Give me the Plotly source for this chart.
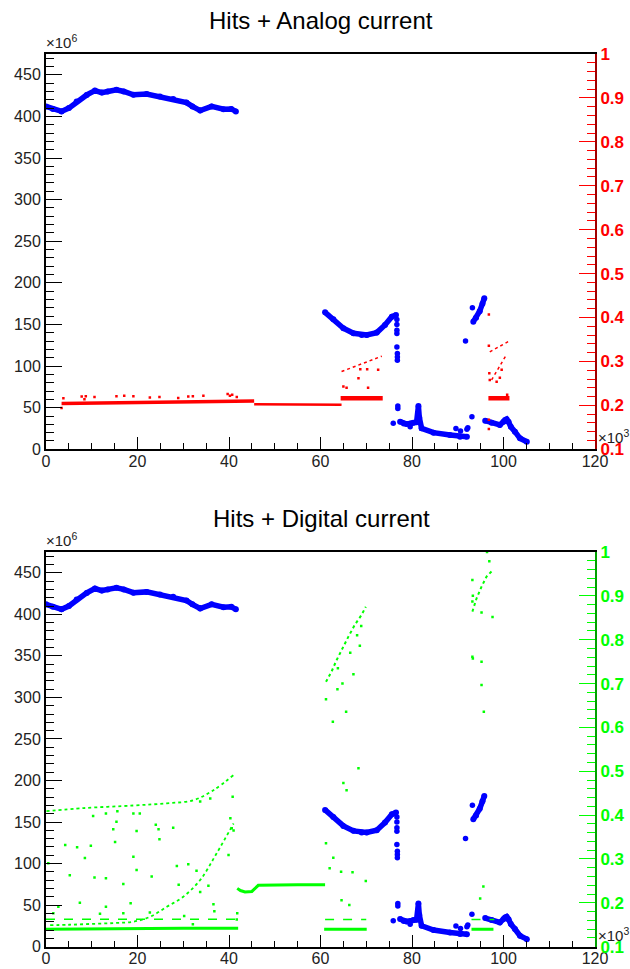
import plotly.graph_objects as go

# ---------------- hits (left axis, units of 1e6) ----------------
hits_seg_x = [0, 1.5, 3.4, 5.0, 6.7, 8.9, 10.7, 12.2, 13.5, 15.4, 17.0, 19.1, 22.0, 24.9, 27.8, 30.7, 32.0, 33.7, 36.2, 38.8, 40.5, 41.5, None,
              61.0, 62.8, 65.0, 67.2, 69.0, 70.1, 72.3, 74.1, 75.6, 76.5, None,
              77.4, 78.2, 78.8, 79.6, 80.3, 81.0, 81.4, 81.6, 82.1, 84.7, 88.3, 90.5, 92.0, None,
              93.4, 94.0, 94.8, 95.4, 95.8, None,
              96.0, 97.4, 99.2, 100.0, 100.7, 101.1, 101.6, 102.5, 103.6, 105.1]
hits_seg_y = [412, 409, 406, 410, 417.8, 425.8, 431, 428.6, 430, 432, 430, 426, 427, 424, 421, 416.6, 412, 407, 412, 408.6, 409, 406, None,
              164.6, 156.2, 145.4, 139.4, 137.4, 137.4, 140.2, 149.4, 159.4, 161.4, None,
              33.2, 31.0, 30.4, 31.0, 32.0, 32.5, 52.0, 38.0, 25.2, 20.0, 17.2, 15.2, 15.1, None,
              153.4, 158.0, 166.0, 175.0, 181.5, None,
              34.4, 32.0, 29.2, 33.2, 36.0, 33.0, 27.2, 21.2, 13.2, 9.1]
hits_pts_x = [76.7, 76.7, 76.7, 76.7, 76.7, 76.8, 76.8, 76.8, 76.9, 76.9, 75.9, 79.6, 89.6, 90.6, 92.0, 92.2, 93.1, 91.7, 93.2, 100.3, 100.6]
hits_pts_y = [156, 150, 143, 139, 123, 115, 111, 107, 52, 49, 31.2, 27.0, 25.0, 22.0, 24.0, 26.0, 39.2, 130.2, 170.2, 35.5, 34.0]

# ---------------- analog current (right axis, units of 1e3) ----------------
ana_band1_x = [3.4, 10, 20, 30, 40, 45.5]
ana_band1_y = [0.2045, 0.2055, 0.207, 0.2075, 0.2085, 0.210]
ana_band2_x = [45.5, 55, 64.6]
ana_band2_y = [0.2025, 0.2015, 0.2015]
ana_band3_x = [64.4, 73.6, None, 96.7, 101.3]
ana_band3_y = [0.216, 0.216, None, 0.216, 0.216]
ana_trend_x = [64.6, 73.4, None, 97.0, 101.0, None, 97.4, 100.4]
ana_trend_y = [0.277, 0.312, None, 0.322, 0.345, None, 0.258, 0.311]
ana_pts_x = [7.8, 8.7, 10.6, 15.4, 17.1, 19.1, 22.7, 24.8, 28.9, 31.1, 32.1, 34.4, 39.7, 40.2, 40.7, 41.7, 8.4, 3.8, 3.4,
             65.0, 65.7, 68.3, 70.4, 72.6, 68.7, 70.2,
             96.8, 96.8, 96.9, 97.0, 98.5, 99.2, 99.6, 100.8, 96.8, 96.8]
ana_pts_y = [0.220, 0.221, 0.219, 0.221, 0.222, 0.221, 0.218, 0.219, 0.217, 0.220, 0.221, 0.222, 0.226, 0.222, 0.224, 0.219, 0.214, 0.216, 0.194,
             0.243, 0.240, 0.262, 0.240, 0.281, 0.282, 0.282,
             0.407, 0.336, 0.273, 0.258, 0.254, 0.263, 0.281, 0.224, 0.167, 0.146]

# ---------------- digital current (right axis, units of 1e3) ----------------
dig_base_x = [0, 10, 20, 30, 42, None, 60.8, 70.1, None, 93.0, 97.8]
dig_base_y = [0.140, 0.141, 0.142, 0.142, 0.142, None, 0.140, 0.140, None, 0.140, 0.140]
dig_dash_x = [0, 41.5, None, 61.0, 70.0, None, 93.0, 98.0]
dig_dash_y = [0.1625, 0.1625, None, 0.162, 0.162, None, 0.162, 0.162]
dig_mid_x = [41.8, 42.5, 43.5, 45.0, 46.4, 50, 55, 61.0]
dig_mid_y = [0.233, 0.228, 0.225, 0.226, 0.240, 0.241, 0.241, 0.241]
dig_rise_x = [0.9, 5, 10, 15, 19.1, 22.7, 26.4, 30.0, 33.7, 37.3, 41.0]
dig_rise_y = [0.149, 0.150, 0.152, 0.154, 0.157, 0.168, 0.191, 0.214, 0.252, 0.313, 0.381]
dig_top_x = [0.1, 8.2, 19.1, 26.4, 32.2, 36.6, 41.3]
dig_top_y = [0.409, 0.416, 0.422, 0.427, 0.434, 0.457, 0.494]
dig_high_x = [61.2, 62.4, 63.5, 64.6, 66.1, 67.5, 69.0, 69.9, None, 93.2, 94.1, 95.2, 96.3, 97.6]
dig_high_y = [0.704, 0.727, 0.753, 0.777, 0.807, 0.834, 0.857, 0.875, None, 0.864, 0.894, 0.921, 0.944, 0.958]
dig_pts_x = [15.6, 13.1, 19.1, 20.5, 10.3, 15.4, 24.0, 14.7, 27.8, 19.8, 24.6, 24.8, 15.1, 6.8, 4.2, 9.8, 0.5, 8.5, 19.1,
             5.2, 10.6, 13.1, 16.9, 19.8, 23.1, 28.6, 29.0, 31.1, 32.9, 35.5, 33.7, 36.6, 36.8, 32.1, 40.3, 40.6, 41.0,
             39.9, 40.8, 33.7, 35.9, 41.8, 41.7, 1.6, 2.7, 7.4, 11.8, 13.1, 16.9, 18.5, 22.7, 30.2,
             61.2, 62.7, 63.7, 64.8, 65.6, 67.2, 68.6, 68.9, 68.0, 66.5, 63.8,
             93.2, 93.2, 93.3, 95.2, 96.4, 96.9, 97.6, 93.2, 93.3, 95.2, 95.2, 95.7,
             68.3, 65.0, 65.7, 61.2, 62.8, 62.0, 64.5, 67.0, 69.9, 64.6, 66.3, 95.6, 94.9]
dig_pts_y = [0.409, 0.404, 0.404, 0.404, 0.398, 0.385, 0.378, 0.368, 0.371, 0.364, 0.368, 0.345, 0.339, 0.327, 0.332, 0.330, 0.290, 0.302, 0.305,
             0.263, 0.258, 0.256, 0.243, 0.275, 0.260, 0.284, 0.241, 0.288, 0.273, 0.239, 0.225, 0.197, 0.181, 0.151, 0.393, 0.370, 0.365,
             0.309, 0.442, 0.431, 0.438, 0.176, 0.162, 0.176, 0.191, 0.200, 0.175, 0.191, 0.176, 0.199, 0.178, 0.170,
             0.664, 0.613, 0.687, 0.700, 0.636, 0.721, 0.786, 0.831, 0.810, 0.770, 0.735,
             0.936, 0.887, 0.900, 0.862, 1.000, 0.979, 0.852, 0.761, 0.757, 0.750, 0.697, 0.636,
             0.507, 0.473, 0.457, 0.336, 0.303, 0.279, 0.271, 0.270, 0.250, 0.206, 0.195, 0.237, 0.210]

# ---------------- axes ticks ----------------
x_ticks = [0, 20, 40, 60, 80, 100, 120]
left_ticks = [0, 50, 100, 150, 200, 250, 300, 350, 400, 450]
right_ticks = [0.1, 0.2, 0.3, 0.4, 0.5, 0.6, 0.7, 0.8, 0.9, 1.0]
right_labels = ["0.1", "0.2", "0.3", "0.4", "0.5", "0.6", "0.7", "0.8", "0.9", "1"]

W, H = 630, 969
FONT = "Liberation Sans, Arial, Helvetica, sans-serif"
BLUE, RED, GREEN = "#0000ff", "#ff0000", "#00ff00"

fig = go.Figure()


def add_hits(xa, ya):
    fig.add_trace(go.Scatter(x=hits_seg_x, y=hits_seg_y, xaxis=xa, yaxis=ya, mode="lines+markers",
                             line=dict(color=BLUE, width=5.5), marker=dict(color=BLUE, size=6),
                             connectgaps=False, showlegend=False))
    fig.add_trace(go.Scatter(x=hits_pts_x, y=hits_pts_y, xaxis=xa, yaxis=ya, mode="markers",
                             marker=dict(color=BLUE, size=5.5), showlegend=False))


# top panel: analog current on secondary axis
fig.add_trace(go.Scatter(x=ana_band1_x, y=ana_band1_y, xaxis="x", yaxis="y2", mode="lines",
                         line=dict(color=RED, width=3.5), showlegend=False))
fig.add_trace(go.Scatter(x=ana_band2_x, y=ana_band2_y, xaxis="x", yaxis="y2", mode="lines",
                         line=dict(color=RED, width=2.5), showlegend=False))
fig.add_trace(go.Scatter(x=ana_band3_x, y=ana_band3_y, xaxis="x", yaxis="y2", mode="lines",
                         line=dict(color=RED, width=4.5), connectgaps=False, showlegend=False))
fig.add_trace(go.Scatter(x=ana_trend_x, y=ana_trend_y, xaxis="x", yaxis="y2", mode="lines",
                         line=dict(color=RED, width=1.5, dash="dot"), connectgaps=False, showlegend=False))
fig.add_trace(go.Scatter(x=ana_pts_x, y=ana_pts_y, xaxis="x", yaxis="y2", mode="markers",
                         marker=dict(color=RED, size=2.5, symbol="square"), showlegend=False))
add_hits("x", "y")

# bottom panel: digital current on secondary axis
fig.add_trace(go.Scatter(x=dig_base_x, y=dig_base_y, xaxis="x2", yaxis="y4", mode="lines",
                         line=dict(color=GREEN, width=3), connectgaps=False, showlegend=False))
fig.add_trace(go.Scatter(x=dig_dash_x, y=dig_dash_y, xaxis="x2", yaxis="y4", mode="lines",
                         line=dict(color=GREEN, width=1.5, dash="dash"), connectgaps=False, showlegend=False))
fig.add_trace(go.Scatter(x=dig_mid_x, y=dig_mid_y, xaxis="x2", yaxis="y4", mode="lines",
                         line=dict(color=GREEN, width=3), showlegend=False))
fig.add_trace(go.Scatter(x=dig_rise_x, y=dig_rise_y, xaxis="x2", yaxis="y4", mode="lines",
                         line=dict(color=GREEN, width=1.8, shape="spline", dash="dot"), showlegend=False))
fig.add_trace(go.Scatter(x=dig_top_x, y=dig_top_y, xaxis="x2", yaxis="y4", mode="lines",
                         line=dict(color=GREEN, width=1.8, shape="spline", dash="dot"), showlegend=False))
fig.add_trace(go.Scatter(x=dig_high_x, y=dig_high_y, xaxis="x2", yaxis="y4", mode="lines",
                         line=dict(color=GREEN, width=2, dash="dot"), connectgaps=False, showlegend=False))
fig.add_trace(go.Scatter(x=dig_pts_x, y=dig_pts_y, xaxis="x2", yaxis="y4", mode="markers",
                         marker=dict(color=GREEN, size=2.5, symbol="square"), showlegend=False))
add_hits("x2", "y3")

# ---------------- layout ----------------
XDOM = [46 / W, 595 / W]
TOP = [1 - 449.3 / H, 1 - 54 / H]
BOT = [1 - 946.7 / H, 1 - 552 / H]


def xaxis_cfg(anchor):
    return dict(domain=XDOM, anchor=anchor, range=[0, 120], tickmode="array", tickvals=x_ticks,
                ticks="inside", ticklen=12, tickwidth=1, tickcolor="black",
                minor=dict(dtick=5, tick0=0, ticklen=6, tickcolor="black", ticks="inside"),
                showline=True, linecolor="black", linewidth=2, mirror=True, showgrid=False, zeroline=False,
                ticklabelstandoff=-4,
                tickfont=dict(family=FONT, size=16, color="#222"), automargin=False)


def left_cfg(anchor, dom):
    return dict(domain=dom, anchor=anchor, range=[0, 475], tickmode="array", tickvals=left_ticks,
                ticks="inside", ticklen=16, tickwidth=1, tickcolor="black",
                minor=dict(dtick=10, tick0=0, ticklen=8, tickcolor="black", ticks="inside"),
                showline=True, linecolor="black", linewidth=2, showgrid=False, zeroline=False,
                tickfont=dict(family=FONT, size=16, color="#222"), automargin=False)


def right_cfg(anchor, over, col, linecol):
    return dict(overlaying=over, side="right", anchor=anchor, range=[0.1, 1.0], tickmode="array",
                tickvals=right_ticks, ticktext=right_labels,
                ticks="inside", ticklen=16, tickwidth=1, tickcolor=col,
                minor=dict(dtick=0.02, tick0=0.1, ticklen=8, tickcolor=col, ticks="inside"),
                showline=True, linecolor=linecol, linewidth=2, showgrid=False, zeroline=False,
                tickfont=dict(family=FONT, size=17, color=col, weight="bold"), automargin=False)


fig.update_layout(
    width=W, height=H, margin=dict(l=0, r=0, t=0, b=0),
    paper_bgcolor="white", plot_bgcolor="rgba(0,0,0,0)",
    xaxis=xaxis_cfg("y"), yaxis=left_cfg("x", TOP), yaxis2=right_cfg("x", "y", RED, "#a00000"),
    xaxis2=xaxis_cfg("y3"), yaxis3=left_cfg("x2", BOT), yaxis4=right_cfg("x2", "y3", GREEN, "#00a000"),
    font=dict(family=FONT),
)

ann = []
for title, ytop, yframe in [("Hits + Analog current", 20.5, 54), ("Hits + Digital current", 518, 552)]:
    ann.append(dict(text=title, x=321 / W, y=1 - ytop / H, xref="paper", yref="paper", showarrow=False,
                    xanchor="center", yanchor="middle", font=dict(family=FONT, size=24, color="black")))
    ann.append(dict(text="×10<sup>6</sup>", x=44 / W, y=1 - (yframe - 1) / H, xref="paper", yref="paper",
                    showarrow=False, xanchor="left", yanchor="bottom",
                    font=dict(family=FONT, size=15, color="#222")))
for ybase in [449.3, 946.7]:
    ann.append(dict(text="×10<sup>3</sup>", x=596 / W, y=1 - (ybase - 1) / H, xref="paper", yref="paper",
                    showarrow=False, xanchor="left", yanchor="bottom",
                    font=dict(family=FONT, size=15, color="#222")))
fig.update_layout(annotations=ann)

fig.write_html("out.html")
